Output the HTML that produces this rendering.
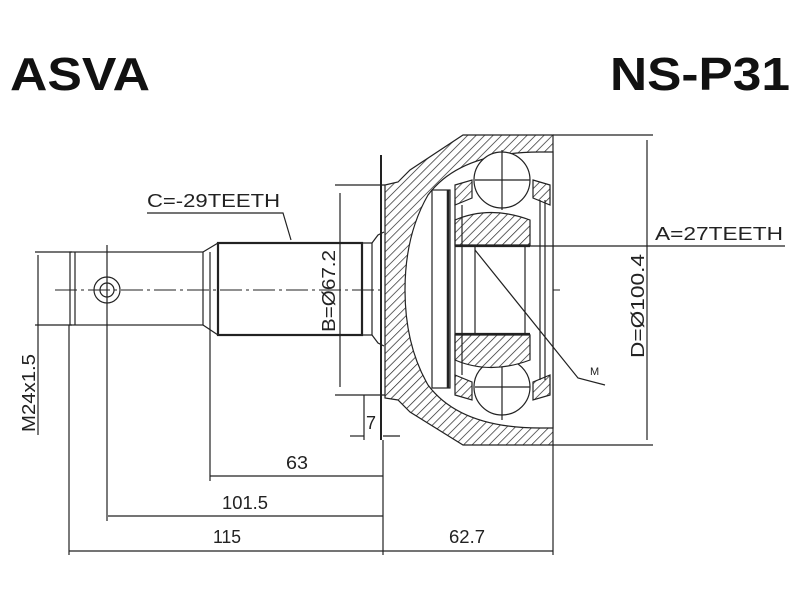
<!DOCTYPE html>
<html><head><meta charset="utf-8"><style>
html,body{margin:0;padding:0;background:#fff}
svg{display:block}
text{font-family:"Liberation Sans",sans-serif;fill:#222}
</style></head><body>
<svg width="800" height="600" viewBox="0 0 800 600" xmlns="http://www.w3.org/2000/svg">
<defs>
<pattern id="h" patternUnits="userSpaceOnUse" width="6" height="6" patternTransform="rotate(45)">
<rect width="6" height="6" fill="#fff"/><line x1="0" y1="0" x2="0" y2="6" stroke="#222" stroke-width="1.4"/>
</pattern>
</defs>
<text x="10" y="90" font-size="46" font-weight="bold" style="fill:#111" textLength="140" lengthAdjust="spacingAndGlyphs">ASVA</text>
<text x="610" y="90" font-size="46" font-weight="bold" style="fill:#111" textLength="180" lengthAdjust="spacingAndGlyphs">NS-P31</text>

<g stroke="#222" fill="none" stroke-width="1.2">
<line x1="55" y1="290" x2="560" y2="290" stroke-dasharray="22,4,3,4" stroke-width="1"/>
<rect x="70" y="252" width="133" height="73"/>
<line x1="75" y1="252" x2="75" y2="325"/>
<circle cx="107" cy="290" r="13"/><circle cx="107" cy="290" r="7"/>
<line x1="107" y1="245" x2="107" y2="521"/>
<path d="M203 252 L218 243 M203 325 L218 335"/>
<rect x="218" y="243" width="144" height="92" stroke-width="2.2"/>
<line x1="210" y1="252" x2="210" y2="481"/>
<path d="M362 243 L372 243 L372 335 L362 335"/>
<path d="M372 243 L378 235 L384 232 M372 335 L378 343 L384 346"/>
<line x1="35" y1="252" x2="72" y2="252"/><line x1="35" y1="325" x2="72" y2="325"/>
<line x1="38" y1="255" x2="38" y2="435"/>
<line x1="69" y1="325" x2="69" y2="555"/>
<line x1="335" y1="185" x2="385" y2="185"/><line x1="335" y1="395" x2="385" y2="395"/>
<line x1="340" y1="193" x2="340" y2="387"/>
<line x1="381" y1="155" x2="381" y2="440" stroke-width="2"/>
<path d="M463 135 L553 135 L553 445 L463 445 L410 412 L398 400 L385 398 L385 185 L398 182 L410 170 Z" fill="url(#h)"/>
<path d="M540 152 Q460 152 428 195 Q405 235 405 290 Q405 345 428 385 Q460 428 540 428 L553 428 L553 152 Z" fill="#fff"/>
<line x1="383" y1="440" x2="383" y2="555"/>
<rect x="432" y="190" width="18" height="198" fill="#fff"/>
<line x1="448" y1="190" x2="448" y2="388" stroke-width="2.5"/>
<circle cx="502" cy="180" r="28" fill="#fff"/>
<circle cx="502" cy="387" r="28" fill="#fff"/>
<line x1="475" y1="180" x2="530" y2="180"/><line x1="502" y1="150" x2="502" y2="210"/>
<line x1="475" y1="387" x2="530" y2="387"/><line x1="502" y1="360" x2="502" y2="420"/>
<path d="M455 220 Q490 205 530 220 L530 245 L455 245 Z" fill="url(#h)"/>
<path d="M455 335 L530 335 L530 360 Q490 375 455 360 Z" fill="url(#h)"/>
<path d="M455 185 L472 180 L472 198 L455 205 Z" fill="url(#h)"/>
<path d="M533 180 L550 185 L550 205 L533 198 Z" fill="url(#h)"/>
<path d="M455 375 L472 382 L472 400 L455 395 Z" fill="url(#h)"/>
<path d="M533 382 L550 375 L550 395 L533 400 Z" fill="url(#h)"/>
<line x1="455" y1="200" x2="455" y2="380"/>
<line x1="462" y1="205" x2="462" y2="375"/>
<line x1="540" y1="200" x2="540" y2="380"/><line x1="545" y1="200" x2="545" y2="380"/>
<line x1="455" y1="246" x2="530" y2="246" stroke-width="2.2"/>
<line x1="455" y1="334" x2="530" y2="334" stroke-width="2.2"/>
<line x1="475" y1="246" x2="475" y2="334"/><line x1="525" y1="246" x2="525" y2="334"/>
<line x1="455" y1="246" x2="785" y2="246"/>
<path d="M475 250 L578 378 L605 385"/>
<line x1="553" y1="135" x2="653" y2="135"/><line x1="553" y1="445" x2="653" y2="445"/>
<line x1="647" y1="140" x2="647" y2="440"/>
<line x1="553" y1="445" x2="553" y2="555"/>
<line x1="364" y1="395" x2="364" y2="440"/>
<line x1="350" y1="436" x2="364" y2="436"/><line x1="383" y1="436" x2="400" y2="436"/>
<line x1="210" y1="476" x2="383" y2="476"/>
<line x1="108" y1="516" x2="383" y2="516"/>
<line x1="69" y1="551" x2="383" y2="551"/>
<line x1="383" y1="551" x2="553" y2="551"/>
<path d="M147 213 L283 213 L291 240"/>
</g>

<g font-size="18">
<text x="147" y="207" textLength="133" lengthAdjust="spacingAndGlyphs">C=-29TEETH</text>
<text x="655" y="240" textLength="128" lengthAdjust="spacingAndGlyphs">A=27TEETH</text>
<text x="286" y="469" textLength="22" lengthAdjust="spacingAndGlyphs">63</text>
<text x="222" y="509" textLength="46" lengthAdjust="spacingAndGlyphs">101.5</text>
<text x="213" y="543" textLength="28" lengthAdjust="spacingAndGlyphs">115</text>
<text x="449" y="543" textLength="36" lengthAdjust="spacingAndGlyphs">62.7</text>
<text x="366" y="429">7</text>
<text font-size="11" x="590" y="375">M</text>
<text transform="translate(335,332) rotate(-90)" textLength="82" lengthAdjust="spacingAndGlyphs">B=Ø67.2</text>
<text transform="translate(644,358) rotate(-90)" textLength="104" lengthAdjust="spacingAndGlyphs">D=Ø100.4</text>
<text transform="translate(35,432) rotate(-90)" textLength="78" lengthAdjust="spacingAndGlyphs">M24x1.5</text>
</g>
</svg>
</body></html>
